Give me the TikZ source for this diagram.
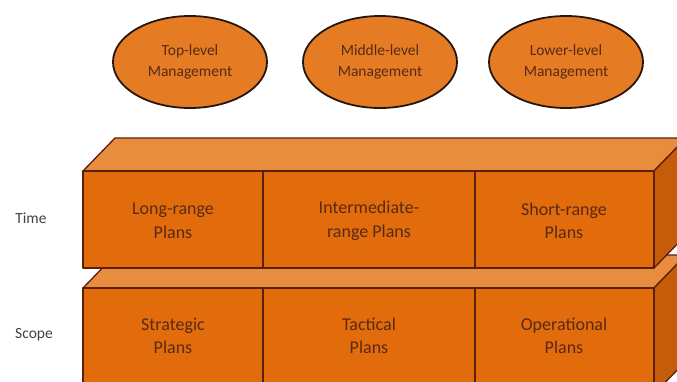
\documentclass[tikz,border=0pt]{standalone}
\usepackage{fontspec}
\setmainfont{Carlito}
\usetikzlibrary{shapes.geometric}
\definecolor{frontc}{RGB}{226,108,12}
\definecolor{topc}{RGB}{232,140,62}
\definecolor{sidec}{RGB}{196,92,10}
\definecolor{ellc}{RGB}{229,124,36}
\definecolor{edgec}{RGB}{92,32,10}
\definecolor{txtc}{RGB}{88,42,20}
\definecolor{ellline}{RGB}{40,22,12}
\tikzset{
  mgmt/.style={ellipse, draw=ellline, line width=1.8pt, fill=ellc,
    minimum width=154pt, minimum height=92pt, inner sep=0pt,
    align=center, text=txtc, font=\fontsize{15.5}{21}\selectfont},
  front/.style={fill=frontc, draw=edgec, line width=1.3pt, line join=round},
  topface/.style={fill=topc, draw=edgec, line width=1.3pt, line join=round},
  sideface/.style={fill=sidec, draw=edgec, line width=1.3pt, line join=round},
  celltext/.style={align=center, text=txtc, font=\fontsize{18}{23.5}\selectfont},
  sidelabel/.style={text=black!75, font=\fontsize{15.5}{19}\selectfont}
}
\begin{document}
\begin{tikzpicture}[x=1pt,y=1pt]
\useasboundingbox (0,0) rectangle (677,-381);
\begin{scope}
\clip (0,0) rectangle (677,-381);
% bottom box
\draw[topface] (83,-288) -- (115,-255) -- (686,-255) -- (654,-288) -- cycle;
\draw[sideface] (654,-288) -- (686,-255) -- (686,-361) -- (654,-394) -- cycle;
\draw[front] (83,-288) rectangle (654,-394);
\draw[front] (263,-288) -- (263,-394);
\draw[front] (475,-288) -- (475,-394);
% top box
\draw[topface] (83,-171) -- (115,-138) -- (686,-138) -- (654,-171) -- cycle;
\draw[sideface] (654,-171) -- (686,-138) -- (686,-235) -- (654,-268) -- cycle;
\draw[front] (83,-171) rectangle (654,-268);
\draw[front] (263,-171) -- (263,-268);
\draw[front] (475,-171) -- (475,-268);
\end{scope}
% ellipses
\node[mgmt] (top) at (190,-62) {Top-level\\Management};
\node[mgmt] (mid) at (380,-62) {Middle-level\\Management};
\node[mgmt] (low) at (566,-62) {Lower-level\\Management};
% cell texts
\node[celltext] (long) at (173,-221) {Long-range\\Plans};
\node[celltext] (inter) at (369,-221) {Intermediate-\\range Plans};
\node[celltext] (short) at (564,-221) {Short-range\\Plans};
\node[celltext] (strat) at (173,-336) {Strategic\\Plans};
\node[celltext] (tact) at (369,-336) {Tactical\\Plans};
\node[celltext] (oper) at (564,-336) {Operational\\Plans};
% side labels
\node[sidelabel] (time) at (31,-218) {Time};
\node[sidelabel] (scope) at (34,-335) {Scope};
\end{tikzpicture}
\end{document}
